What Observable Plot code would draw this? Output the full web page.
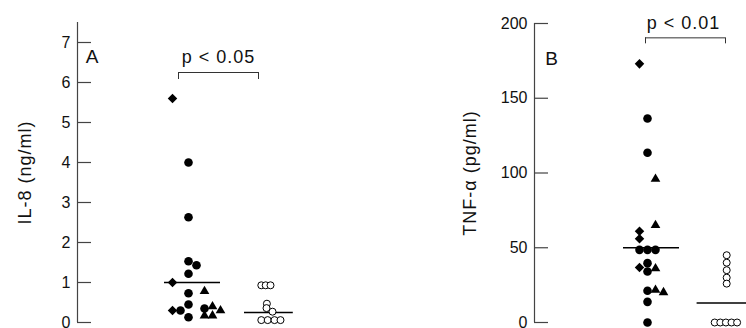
<!DOCTYPE html>
<html><head><meta charset="utf-8">
<script src="https://cdn.jsdelivr.net/npm/d3@7"></script>
<script src="https://cdn.jsdelivr.net/npm/@observablehq/plot@0.6"></script>
<style>
body{margin:0;background:#fff;}
#wrap{display:flex;width:746px;height:328px;overflow:hidden;}
#wrap svg{flex:none;}
</style></head><body><div id="wrap"></div>
<script>
// ---------- Panel A : IL-8 ----------
const aLetter = "A";
const aYLabel = "IL-8 (ng/ml)";
const aTicks = [0, 1, 2, 3, 4, 5, 6, 7];
const aPText = "p < 0.05";
// group 1 (patients, filled symbols)
const aPatValue = [5.6, 4.0, 2.63, 1.53, 1.43, 1.22, 1.0, 0.78, 0.73, 0.45, 0.4, 0.35, 0.3, 0.3, 0.3, 0.17, 0.17, 0.13];
const aPatShape = ["diamond","circle","circle","circle","circle","circle","diamond","triangle","circle","circle","triangle","circle","diamond","circle","triangle","triangle","triangle","circle"];
const aPatSlot  = [-2, 0, 0, 0, 1, 0, -2, 2, 0, 0, 3, 2, -2, -1, 4, 2, 3, 0];
// group 2 (controls, open circles)
const aCtlValue = [0.93, 0.93, 0.93, 0.47, 0.36, 0.27, 0.06, 0.06, 0.06, 0.06];
const aCtlSlot  = [-0.9, -0.35, 0.25, -0.2, -0.25, 0.5, -0.9, -0.1, 0.75, 1.5];
const aMedians  = [1.0, 0.25];

// ---------- Panel B : TNF-alpha ----------
const bLetter = "B";
const bYLabel = "TNF-\u03b1 (pg/ml)";
const bTicks = [0, 50, 100, 150, 200];
const bPText = "p < 0.01";
const bPatValue = [173, 136.5, 113.5, 96, 65, 61, 56, 48.6, 48.6, 48.6, 39.7, 36.8, 36.1, 34.1, 21.7, 21.2, 20.1, 13.8, 0];
const bPatShape = ["diamond","circle","circle","triangle","triangle","diamond","diamond","circle","circle","circle","circle","diamond","triangle","circle","triangle","circle","triangle","circle","circle"];
const bPatSlot  = [-1, 0, 0, 1, 1, -1, -1, -1, 0, 1, 0, -1, 1, 0, 1, 0, 2, 0, 0];
const bCtlValue = [45, 40, 35, 30, 26, 0, 0, 0, 0, 0];
const bCtlSlot  = [-0.1, -0.1, -0.1, -0.1, -0.1, -1.6, -0.9, -0.2, 0.5, 1.2];
const bMedians  = [50, 13];

const SLOT = 0.1; // jitter slot width in group units

function panel(cfg) {
  const pat = cfg.patValue.map((v, i) => ({x: 1 + cfg.patSlot[i] * SLOT, y: v, shape: cfg.patShape[i]}));
  const ctl = cfg.ctlValue.map((v, i) => ({x: 2 + cfg.ctlSlot[i] * SLOT, y: v}));
  const meds = [
    {y: cfg.medians[0], x1: cfg.med1[0], x2: cfg.med1[1]},
    {y: cfg.medians[1], x1: cfg.med2[0], x2: cfg.med2[1]}
  ];
  const x0 = cfg.xDomain[0];
  const dotsOf = (s) => pat.filter(d => d.shape === s);
  const svg = Plot.plot({
    width: 373, height: 328,
    marginLeft: cfg.marginLeft, marginRight: 0, marginTop: cfg.marginTop, marginBottom: cfg.marginBottom,
    style: {fontFamily: "'Liberation Sans', Arial, sans-serif", fontSize: "16px", color: "#111", background: "#fff", overflow: "visible"},
    x: {domain: cfg.xDomain, axis: null},
    y: {domain: cfg.yDomain, axis: null},
    marks: [
      Plot.ruleX([x0], {y1: cfg.yDomain[0], y2: cfg.yDomain[1], stroke: "#444", strokeWidth: 1.2}),
      Plot.ruleY(cfg.ticks, {x1: x0, x2: x0 + cfg.tickLen, stroke: "#444", strokeWidth: 1.2}),
      Plot.axisY({ticks: cfg.ticks, tickSize: 0, tickPadding: cfg.tickPad, fontSize: 16, label: null, fill: "#111"}),
      Plot.text([cfg.yLabel], {frameAnchor: "left", dx: cfg.labelDx, rotate: -90, textAnchor: "middle", lineAnchor: "middle", fontSize: 18, fill: "#111"}),
      Plot.text([cfg.letter], {x: cfg.letterPos[0], y: cfg.letterPos[1], textAnchor: "middle", lineAnchor: "middle", fontSize: 19, fill: "#111"}),
      // bracket + p-value
      Plot.ruleY([cfg.bracket.y], {x1: cfg.bracket.x1, x2: cfg.bracket.x2, stroke: "#333", strokeWidth: 1}),
      Plot.ruleX([cfg.bracket.x1, cfg.bracket.x2], {y1: cfg.bracket.yTick, y2: cfg.bracket.y, stroke: "#333", strokeWidth: 1}),
      Plot.text([cfg.pText], {x: cfg.pPos[0], y: cfg.pPos[1], textAnchor: "middle", lineAnchor: "middle", fontSize: 18, fill: "#111"}),
      // medians
      Plot.ruleY(meds, {y: "y", x1: "x1", x2: "x2", stroke: "#000", strokeWidth: 1.6}),
      // points
      Plot.dot(dotsOf("circle"), {x: "x", y: "y", symbol: "circle", r: 4.3, fill: "#000", stroke: "none"}),
      Plot.dot(dotsOf("diamond"), {x: "x", y: "y", symbol: "diamond2", r: 4.3, fill: "#000", stroke: "none"}),
      Plot.dot(dotsOf("triangle"), {x: "x", y: "y", symbol: "triangle", r: 3.6, fill: "#000", stroke: "none"}),
      Plot.dot(ctl, {x: "x", y: "y", symbol: "circle", r: 3.5, fill: "#fff", stroke: "#000", strokeWidth: 1})
    ]
  });
  // slightly wider letter spacing on the label texts, as in the reference
  svg.querySelectorAll("text").forEach(t => {
    const s = t.textContent;
    if (s === cfg.yLabel || s === cfg.pText) t.setAttribute("letter-spacing", "1px");
  });
  return svg;
}

const wrap = document.getElementById("wrap");
wrap.appendChild(panel({
  marginLeft: 77, marginTop: 22, marginBottom: 6,
  xDomain: [-0.3875, 3.3125], yDomain: [0, 7.5],
  ticks: aTicks, tickLen: 0.175, tickPad: 7, labelDx: -52,
  yLabel: aYLabel, letter: aLetter, letterPos: [-0.206, 6.63],
  patValue: aPatValue, patShape: aPatShape, patSlot: aPatSlot,
  ctlValue: aCtlValue, ctlSlot: aCtlSlot, medians: aMedians,
  med1: [0.7, 1.4], med2: [1.7, 2.31],
  bracket: {x1: 0.875, x2: 1.875, y: 6.25, yTick: 6.075},
  pText: aPText, pPos: [1.375, 6.62]
}));
wrap.appendChild(panel({
  marginLeft: 161, marginTop: 23, marginBottom: 6,
  xDomain: [-0.4125, 2.2375], yDomain: [0, 200],
  ticks: bTicks, tickLen: 0.175, tickPad: 7, labelDx: -64,
  yLabel: bYLabel, letter: bLetter, letterPos: [-0.2, 176],
  patValue: bPatValue, patShape: bPatShape, patSlot: bPatSlot,
  ctlValue: bCtlValue, ctlSlot: bCtlSlot, medians: bMedians,
  med1: [0.7, 1.4], med2: [1.62, 2.2375],
  bracket: {x1: 0.975, x2: 1.975, y: 190.4, yTick: 186.4},
  pText: bPText, pPos: [1.45, 200]
}));
</script>
</body></html>
